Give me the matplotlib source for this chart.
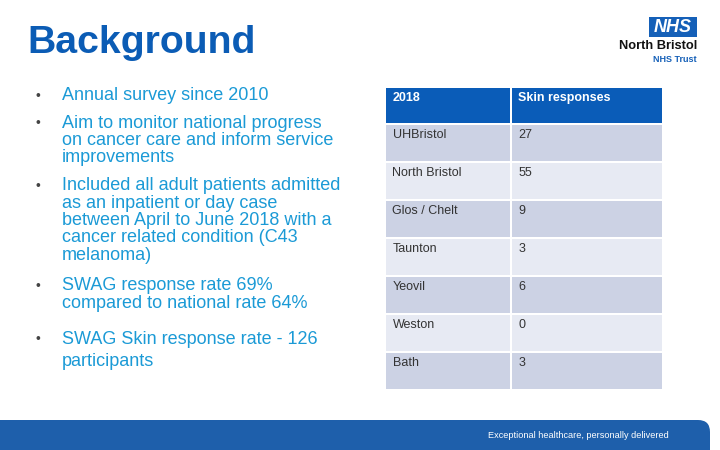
import matplotlib
matplotlib.use("Agg")
import matplotlib.pyplot as plt
from matplotlib.patches import Rectangle, FancyBboxPatch

plt.rcParams['font.family'] = ['Liberation Sans', 'DejaVu Sans']

# slide text
title = "Background"
bullets = [
    ["Annual survey since 2010"],
    ["Aim to monitor national progress", "on cancer care and inform service", "improvements"],
    ["Included all adult patients admitted", "as an inpatient or day case",
     "between April to June 2018 with a", "cancer related condition (C43", "melanoma)"],
    ["SWAG response rate 69%", "compared to national rate 64%"],
    ["SWAG Skin response rate - 126", "participants"],
]
bullet_y = [96, 123, 186, 286, 339]
line_gap = [17.5, 17.5, 17.3, 18, 22]

# table data
header = ["2018", "Skin responses"]
sites = ["UHBristol", "North Bristol", "Glos / Chelt", "Taunton", "Yeovil", "Weston", "Bath"]
responses = [27, 55, 9, 3, 6, 0, 3]

blue_title = "#0b5cb5"
blue_text = "#1b9ad6"
head_col = "#0a5cb8"
row_dark = "#ccd2e4"
row_light = "#e7eaf3"

fig = plt.figure(figsize=(7.2, 4.5), dpi=100)
ax = fig.add_axes([0, 0, 1, 1])
ax.set_xlim(0, 720)
ax.set_ylim(450, 0)
ax.axis("off")

ax.text(27, 43, title, fontsize=28.3, fontweight="bold", color=blue_title, va="center", ha="left")

for lines, y0, gap in zip(bullets, bullet_y, line_gap):
    ax.text(35, y0, "•", fontsize=10, color="#444444", va="center", ha="left")
    for i, ln in enumerate(lines):
        ax.text(62, y0 + i * gap, ln, fontsize=13, color=blue_text, va="center", ha="left")

# table
col_x = [386, 512]
col_w = [124, 150]
for cx, cw, h in zip(col_x, col_w, header):
    ax.add_patch(Rectangle((cx, 88), cw, 35, facecolor=head_col, linewidth=0))
    ax.text(cx + 6.5, 98, h, fontsize=9, fontweight="bold", color="white", va="center")
for i, (s, r) in enumerate(zip(sites, responses)):
    top = 125 + i * 38
    c = row_dark if i % 2 == 0 else row_light
    for cx, cw, t in zip(col_x, col_w, [s, str(r)]):
        ax.add_patch(Rectangle((cx, top), cw, 36, facecolor=c, linewidth=0))
        ax.text(cx + 6.5, top + 10, t, fontsize=9, color="#333333", va="center")

# logo
ax.add_patch(Rectangle((649, 17), 48, 20, facecolor="#1560b8", linewidth=0))
ax.text(673, 27.5, "NHS", fontsize=13, fontweight="bold", style="italic", color="white",
        va="center", ha="center")
ax.text(697, 46, "North Bristol", fontsize=9.3, fontweight="bold", color="#111111",
        va="center", ha="right")
ax.text(697, 60, "NHS Trust", fontsize=6.5, fontweight="bold", color="#1560b8",
        va="center", ha="right")

# footer bar
ax.add_patch(FancyBboxPatch((-30, 420), 740, 60, boxstyle="round,pad=0,rounding_size=12",
                            facecolor="#1e5fab", linewidth=0))
ax.text(669, 435, "Exceptional healthcare, personally delivered", fontsize=6.6,
        color="white", va="center", ha="right")

fig.savefig("out.png", dpi=100)
